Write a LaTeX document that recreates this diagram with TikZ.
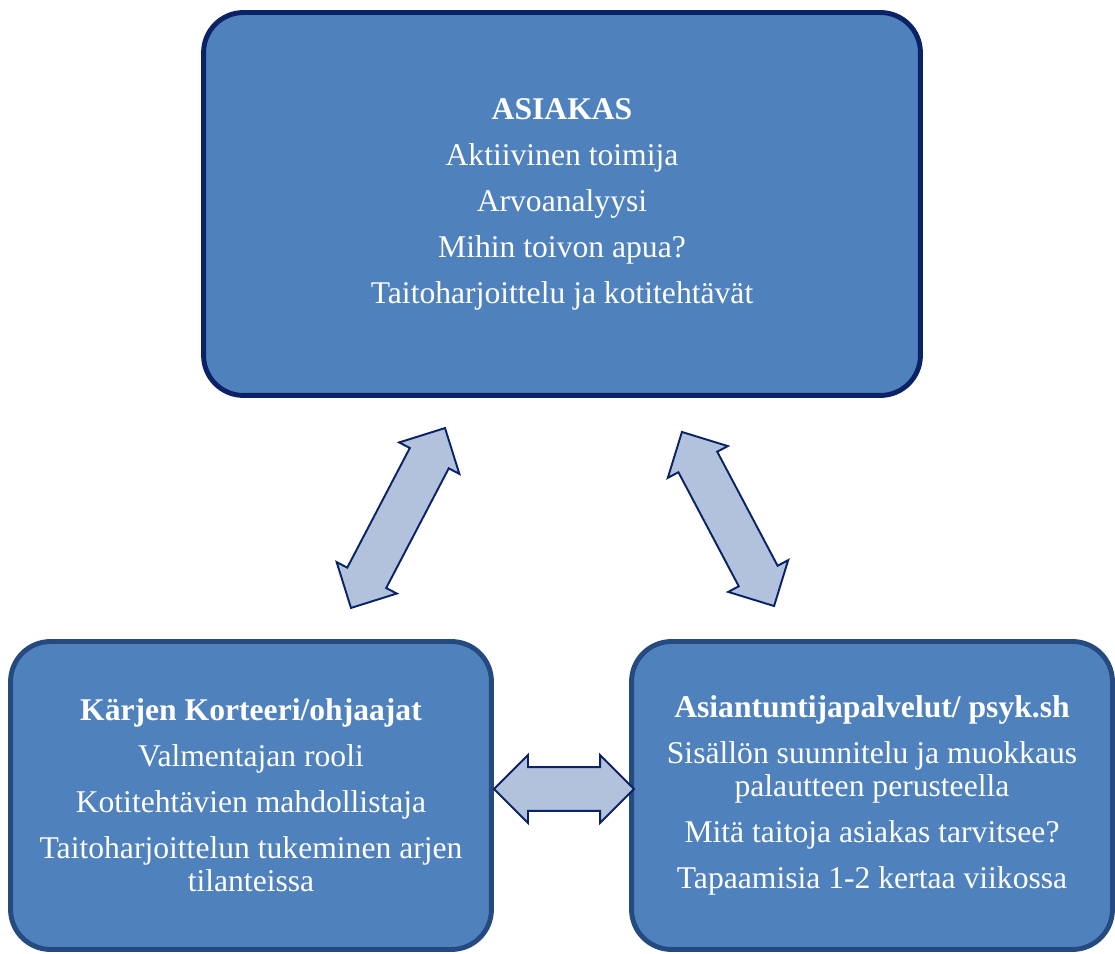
\documentclass[tikz,border=0pt]{standalone}
\usepackage{fontspec}
\setmainfont{Liberation Serif}
\usetikzlibrary{shapes.arrows}
\definecolor{boxblue}{RGB}{79,129,189}
\definecolor{navyline}{RGB}{10,34,102}
\definecolor{boxline}{RGB}{36,74,127}
\definecolor{arrowfill}{RGB}{178,194,221}

\begin{document}
\begin{tikzpicture}[x=0.02cm, y=0.02cm,
    box/.style={draw=boxline, line width=2.8pt, fill=boxblue, rounded corners=0.8cm,
        text=white, align=center, inner sep=0pt, font=\fontsize{18}{18.8}\selectfont},
    twoway/.style={double arrow, draw=navyline, line width=1.1pt, fill=arrowfill,
        inner xsep=0pt, inner ysep=0.42cm, minimum width=1.32cm, double arrow head extend=0.24cm}]
    \useasboundingbox (0,0) rectangle (1115,953);

    % client
    \node[box, draw=navyline, minimum width=14.34cm, minimum height=7.66cm] (asiakas) at (562,749)
        {\textbf{ASIAKAS}\\[7.4pt] Aktiivinen toimija\\[7.4pt] Arvoanalyysi\\[7.4pt]
         Mihin toivon apua?\\[7.4pt] Taitoharjoittelu ja kotitehtävät};

    % instructors
    \node[box, minimum width=9.62cm, minimum height=6.16cm] (ohjaajat) at (251,157.5)
        {\textbf{Kärjen Korteeri/ohjaajat}\\[7.4pt] Valmentajan rooli\\[7.4pt]
         Kotitehtävien mahdollistaja\\[7.4pt] Taitoharjoittelun tukeminen arjen\\ tilanteissa};

    % experts
    \node[box, minimum width=9.62cm, minimum height=6.16cm] (asiantuntijat) at (872,157.5)
        {\textbf{Asiantuntijapalvelut/ psyk.sh}\\[7.4pt] Sisällön suunnitelu ja muokkaus\\ palautteen perusteella\\[7.4pt]
         Mitä taitoja asiakas tarvitsee?\\[7.4pt] Tapaamisia 1-2 kertaa viikossa};

    % two-way links
    \node[twoway, minimum height=4.06cm, rotate=62.4] (link-left) at (398,435) {};
    \node[twoway, minimum height=3.94cm, rotate=117.9] (link-right) at (728,434) {};
    \node[twoway, minimum height=2.8cm] (link-bottom) at (564,164) {};
\end{tikzpicture}
\end{document}
